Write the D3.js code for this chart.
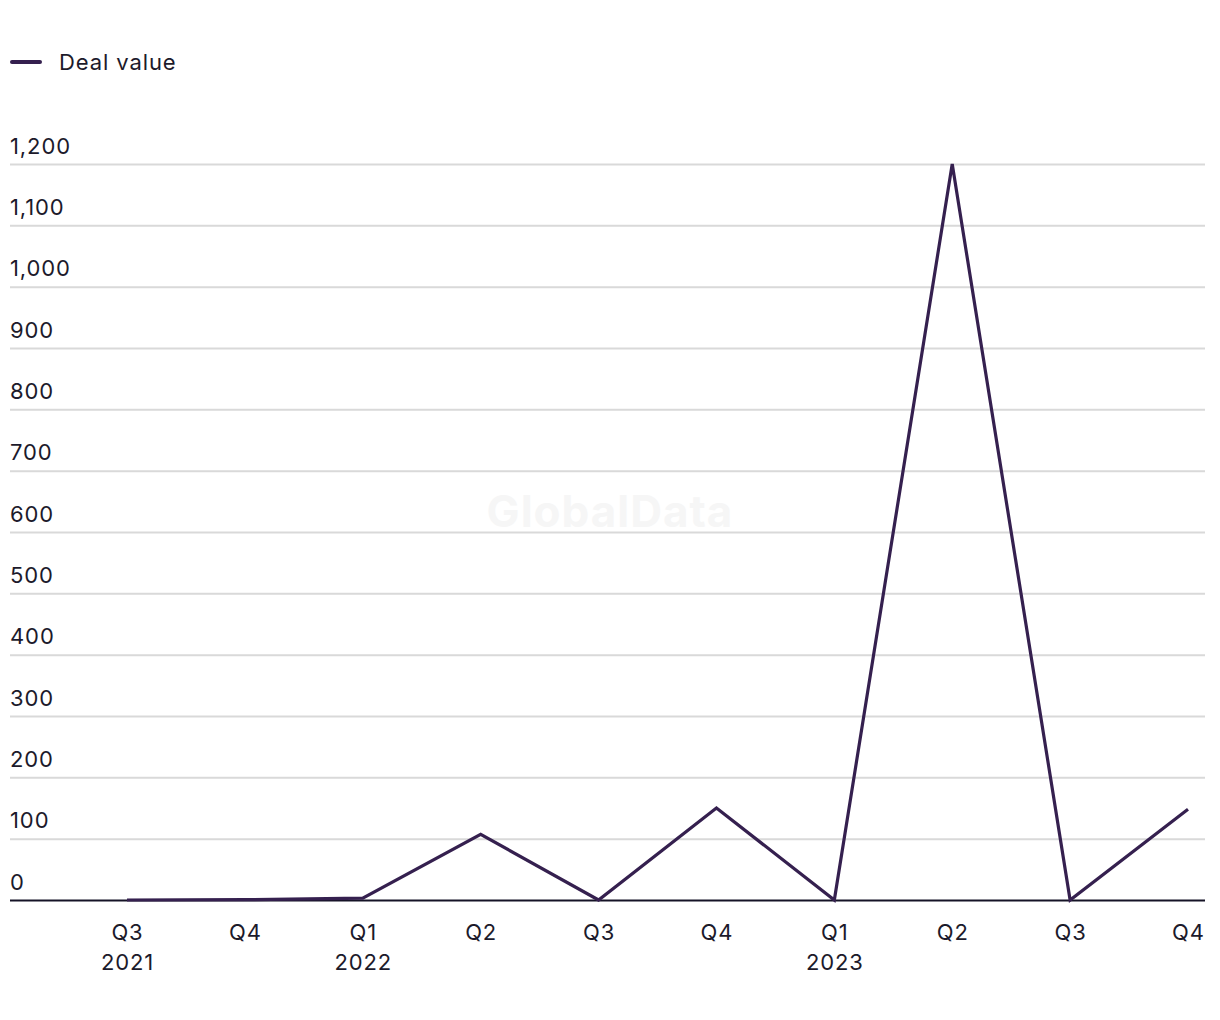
<!DOCTYPE html>
<html><head><meta charset="utf-8">
<script src="https://cdn.jsdelivr.net/npm/d3@7"></script>
<style>body{margin:0;background:#fff;} svg{display:block;}</style>
</head><body>
<svg id="chart" width="1220" height="1020"></svg>
<script>
const quarters = ["Q3","Q4","Q1","Q2","Q3","Q4","Q1","Q2","Q3","Q4"];
const years    = ["2021","","2022","","","","2023","","",""];
const dealValue = [0, 0.5, 3, 107, 0, 150, 0, 1200, 0, 148];
const yTicks = [0,100,200,300,400,500,600,700,800,900,1000,1100,1200];
const seriesName = "Deal value";

const svg = d3.select("#chart");
const font = "Inter, 'Liberation Sans', sans-serif";
const textColor = "#1c1a2b";
const lineColor = "#35204f";
const ls = "0.9px";

const idx = d3.range(dealValue.length);
const x = d3.scalePoint().domain(idx).range([127, 1188]);
const y = d3.scaleLinear().domain([0, 1200]).range([900, 164]);

// watermark
svg.append("text").attr("x", 610).attr("y", 527).attr("text-anchor","middle")
  .attr("font-family", font).attr("font-weight", 700).attr("font-size", 44)
  .attr("letter-spacing", "1px")
  .attr("fill", "#f6f6f6").text("GlobalData");

// gridlines and y labels
const yAxis = d3.axisLeft(y).tickValues(yTicks).tickSize(0).tickFormat(d3.format(","));
const gy = svg.append("g").call(yAxis);
gy.select(".domain").remove();
gy.selectAll(".tick").each(function(d){
  const g = d3.select(this);
  g.select("text").attr("x", 10).attr("dy", 0).attr("y", -11)
    .attr("text-anchor","start").attr("font-family", font).attr("font-size", 22)
    .attr("letter-spacing", ls).attr("fill", textColor);
  g.append("line").attr("x1", 10).attr("x2", 1205)
    .attr("stroke", d === 0 ? "#151326" : "#d9d9d9").attr("stroke-width", 2);
});

// x axis labels
const gx = svg.append("g").attr("transform","translate(0,900)")
  .call(d3.axisBottom(x).tickSize(0).tickFormat(i => quarters[i]));
gx.select(".domain").remove();
gx.selectAll(".tick text").attr("y", 24).attr("dy","0.71em")
  .attr("font-family", font).attr("font-size", 22).attr("letter-spacing", ls)
  .attr("fill", textColor);
gx.selectAll(".tick").append("text").attr("y", 54).attr("dy","0.71em")
  .attr("text-anchor","middle").attr("font-family", font).attr("font-size", 22)
  .attr("letter-spacing", ls).attr("fill", textColor).text(i => years[i]);

// line
const line = d3.line().x((d,i) => x(i)).y(d => y(d));
svg.append("path").datum(dealValue).attr("d", line).attr("fill","none")
  .attr("stroke", lineColor).attr("stroke-width", 3.2).attr("stroke-linejoin","miter");

// legend
svg.append("line").attr("x1", 12).attr("x2", 40).attr("y1", 62).attr("y2", 62)
  .attr("stroke", lineColor).attr("stroke-width", 4).attr("stroke-linecap","round");
svg.append("text").attr("x", 59).attr("y", 70).attr("font-family", font)
  .attr("font-size", 22).attr("letter-spacing", ls).attr("fill", textColor).text(seriesName);
</script>
</body></html>
